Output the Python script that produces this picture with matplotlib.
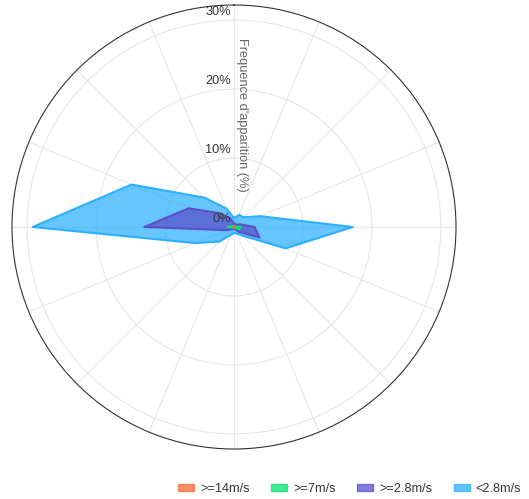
# -*- coding: utf-8 -*-

import numpy as np
import matplotlib
matplotlib.use('Agg')
import matplotlib.pyplot as plt
import matplotlib.transforms as mtransforms
from matplotlib.patches import Patch

plt.rcParams['font.family'] = ['Liberation Sans', 'DejaVu Sans']

# wind directions, clockwise from north
directions = ['N', 'NNE', 'NE', 'ENE', 'E', 'ESE', 'SE', 'SSE',
              'S', 'SSW', 'SW', 'WSW', 'W', 'WNW', 'NW', 'NNW']

# frequency (%) per speed class
freq_lt_2_8 = [1.3, 1.9, 2.0, 4.1, 17.2, 8.1, 1.8, 1.0, 0.9, 1.2, 3.0, 6.1, 29.2, 16.1, 6.0, 2.9]
freq_ge_2_8 = [0.5, 0.4, 0.5, 1.0, 3.0, 4.0, 1.0, 0.3, 0.3, 0.3, 0.5, 1.2, 13.0, 7.1, 2.8, 1.3]
freq_ge_7 = [0.1, 0.1, 0.1, 0.2, 1.0, 0.8, 0.2, 0.1, 0.1, 0.1, 0.1, 0.2, 0.9, 0.3, 0.1, 0.1]
freq_ge_14 = [0.05, 0.05, 0.05, 0.05, 0.1, 0.1, 0.05, 0.05, 0.05, 0.05, 0.05, 0.05, 0.1, 0.05, 0.05, 0.05]

series = [
    ('<2.8m/s', freq_lt_2_8, '#2caffe'),
    ('>=2.8m/s', freq_ge_2_8, '#5a50cc'),
    ('>=7m/s', freq_ge_7, '#00e272'),
    ('>=14m/s', freq_ge_14, '#fe6a35'),
]

r_ticks = [0, 10, 20, 30]
r_max = 32.2

fig = plt.figure(figsize=(5.29, 4.99), dpi=100)
ax = fig.add_axes([12 / 529, 50 / 499, 444 / 529, 444 / 499], projection='polar')
ax.set_theta_zero_location('N')
ax.set_theta_direction(-1)

theta = np.deg2rad(np.arange(len(directions)) * 360.0 / len(directions))
theta_closed = np.append(theta, theta[0])

for name, vals, color in series:
    r = np.append(vals, vals[0])
    ax.fill(theta_closed, r, color=color, alpha=0.72, lw=0, zorder=3)
    ax.plot(theta_closed, r, color=color, lw=1.5, zorder=4)

ax.set_ylim(0, r_max)
ax.set_xticks(theta)
ax.set_xticklabels([])
ax.set_yticks(r_ticks)
ax.set_yticklabels([])
ax.grid(True, color='#e6e6e6', lw=0.8)
ax.spines['polar'].set_color('#333333')
ax.spines['polar'].set_linewidth(0.8)
ax.tick_params(length=0)

# ring labels on the north spoke
trans = mtransforms.offset_copy(ax.transData, fig=fig, x=-3, y=8, units='dots')
for v in r_ticks:
    ax.text(0, v, '{}%'.format(v), transform=trans, ha='right', va='center',
            fontsize=9.2, color='#333333', zorder=5)

fig.text(242 / 529, 1 - 115 / 499, "Frequence d'apparition (%)", rotation=-90,
         ha='center', va='center', fontsize=9.2, color='#666666')

# legend, reversed order
handles = [Patch(facecolor=c, alpha=0.75, edgecolor=c, lw=1) for _, _, c in series][::-1]
labels = [n for n, _, _ in series][::-1]
fig.legend(handles, labels, loc='center right', bbox_to_anchor=(0.997, 10 / 499),
           ncol=4, frameon=False, fontsize=9.2, handlelength=1.25, handleheight=0.45,
           handletextpad=0.45, columnspacing=1.7, borderpad=0, labelcolor='#333333')

plt.savefig('out.png', dpi=100)
